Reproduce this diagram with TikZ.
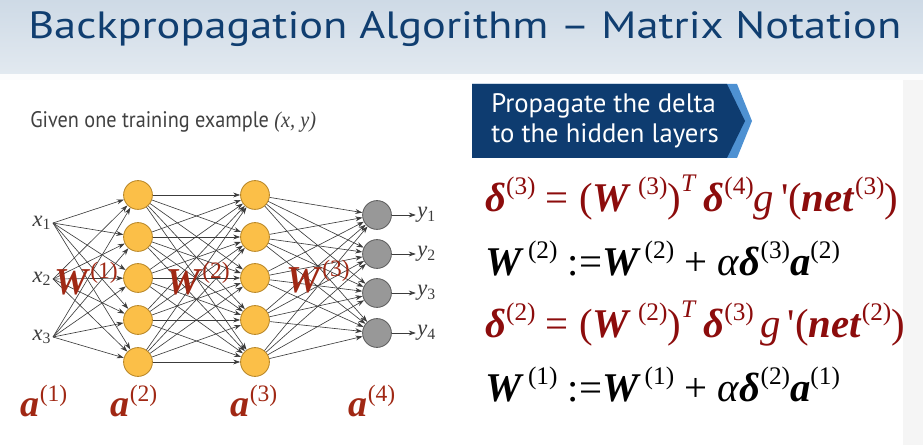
\documentclass[tikz,border=0pt]{standalone}
\usepackage{fontspec}
\setmainfont{Liberation Serif}
\newfontfamily\eqfont{Liberation Serif}
\newfontfamily\headfont{PT Sans}
\usetikzlibrary{arrows.meta, positioning, calc}

\definecolor{titleblue}{RGB}{16,62,112}
\definecolor{bandtop}{RGB}{206,218,230}
\definecolor{bandbot}{RGB}{226,233,240}
\definecolor{bannerdark}{RGB}{14,60,112}
\definecolor{bannerlight}{RGB}{78,145,210}
\definecolor{hiddenfill}{RGB}{251,191,72}
\definecolor{hiddenedge}{RGB}{185,135,40}
\definecolor{outfill}{RGB}{152,152,152}
\definecolor{outedge}{RGB}{95,95,95}
\definecolor{linkgray}{RGB}{60,60,60}
\definecolor{wred}{RGB}{160,40,20}
\definecolor{eqred}{RGB}{140,12,12}

\newcommand\bv[1]{\textbf{\textit{#1}}}
\newcommand\pp[1]{\raisebox{0.42em}{\scalebox{0.62}{(#1)}}}
\newcommand\tp{\raisebox{0.5em}{\scalebox{0.62}{\textit{T}}}}

\tikzset{
  hidden/.style={circle, draw=hiddenedge, fill=hiddenfill, line width=0.6pt, minimum size=0.72cm, inner sep=0pt},
  outunit/.style={circle, draw=outedge, fill=outfill, line width=0.6pt, minimum size=0.72cm, inner sep=0pt},
  link/.style={draw=linkgray, line width=0.45pt, -{Stealth[length=5pt,width=3.5pt]}},
  unitlab/.style={text=linkgray, font=\eqfont\fontsize{16}{16}\selectfont, inner sep=1pt},
  wlabel/.style={text=wred, font=\eqfont\fontsize{27}{27}\selectfont, inner sep=0pt},
  alabel/.style={text=wred, anchor=base, font=\eqfont\fontsize{27}{27}\selectfont, inner sep=0pt},
  eqline/.style={anchor=base west, inner sep=0pt, font=\eqfont\fontsize{29}{29}\selectfont},
}

\begin{document}
\begin{tikzpicture}[x=0.025cm, y=-0.025cm]
  \useasboundingbox (0,0) rectangle (923,445);

  % title band
  \shade[top color=bandtop, bottom color=bandbot] (0,0) rectangle (923,74);
  \fill[white!93!bandtop] (0,74) rectangle (923,80);
  \fill[black!4] (903,80) rectangle (923,445);
  \node[anchor=base west, inner sep=0pt, text=titleblue, font=\headfont\fontsize{27}{27}\selectfont] (title) at (28,39)
    {\scalebox{1.17}[1]{Backpropagation Algorithm – Matrix Notation}};

  \node[anchor=base west, inner sep=0pt, text=black!75, font=\headfont\fontsize{16}{16}\selectfont] (given) at (30,128)
    {\scalebox{0.9}[1]{Given one training example {\eqfont\itshape (x, y)}}};

  % banner
  \fill[bannerlight] (472,84) -- (737,84) -- (752,121) -- (737,158) -- (472,158) -- cycle;
  \fill[bannerdark] (472,84) -- (727,84) -- (745,121) -- (727,158) -- (472,158) -- cycle;
  \node[anchor=west, align=left, inner sep=0pt, text=white, font=\headfont\fontsize{19}{21}\selectfont] (banner) at (491,121)
    {Propagate the delta\\to the hidden layers};

  % network units
  \foreach \i/\y in {1/195, 2/237, 3/278, 4/320, 5/362} {
    \node[hidden] (ha\i) at (138,\y) {};
    \node[hidden] (hb\i) at (255,\y) {};
  }
  \foreach \i/\y in {1/215, 2/254, 3/293, 4/333}
    \node[outunit] (o\i) at (377,\y) {};
  \foreach \i/\y in {1/223, 2/279, 3/337} {
    \coordinate (in\i) at (53,\y);
    \node[unitlab, left=0pt of in\i] (xl\i) {\textit{x}\textsubscript{\i}};
  }

  % connections
  \foreach \i in {1,2,3}
    \foreach \j in {1,...,5}
      \draw[link] (in\i) -- (ha\j);
  \foreach \i in {1,...,5}
    \foreach \j in {1,...,5}
      \draw[link] (ha\i) -- (hb\j);
  \foreach \i in {1,...,5}
    \foreach \j in {1,...,4}
      \draw[link] (hb\i) -- (o\j);
  \foreach \i in {1,...,4} {
    \node[unitlab, right=17pt of o\i] (yl\i) {\textit{y}\textsubscript{\i}};
    \draw[link] (o\i) -- (yl\i);
  }

  % weight and activation labels
  \node[wlabel] (w1) at (86,279) {\bv{W}\pp{1}};
  \node[wlabel] (w2) at (198,279) {\bv{W}\pp{2}};
  \node[wlabel] (w3) at (318,277) {\bv{W}\pp{3}};
  \node[alabel] (a1) at (44,417) {\bv{a}\pp{1}};
  \node[alabel] (a2) at (134,417) {\bv{a}\pp{2}};
  \node[alabel] (a3) at (254,417) {\bv{a}\pp{3}};
  \node[alabel] (a4) at (372,417) {\bv{a}\pp{4}};

  % update equations
  \node[eqline, text=eqred] (eqa) at (485,212)
    {\bv{δ}\pp{3} = (\bv{W}\,\pp{3})\tp\,\bv{δ}\pp{4}\textit{g}\,'(\bv{net}\pp{3})};
  \node[eqline] (eqb) at (485,276)
    {\bv{W}\kern0.1em\pp{2} :=\bv{W}\kern0.1em\pp{2} + \textit{α}\bv{δ}\pp{3}\bv{a}\pp{2}};
  \node[eqline, text=eqred] (eqc) at (485,338)
    {\bv{δ}\pp{2} = (\bv{W}\,\pp{2})\tp\,\bv{δ}\pp{3}\,\textit{g}\,'(\bv{net}\pp{2})};
  \node[eqline] (eqd) at (485,402)
    {\bv{W}\kern0.1em\pp{1} :=\bv{W}\kern0.1em\pp{1} + \textit{α}\bv{δ}\pp{2}\bv{a}\pp{1}};
\end{tikzpicture}
\end{document}
